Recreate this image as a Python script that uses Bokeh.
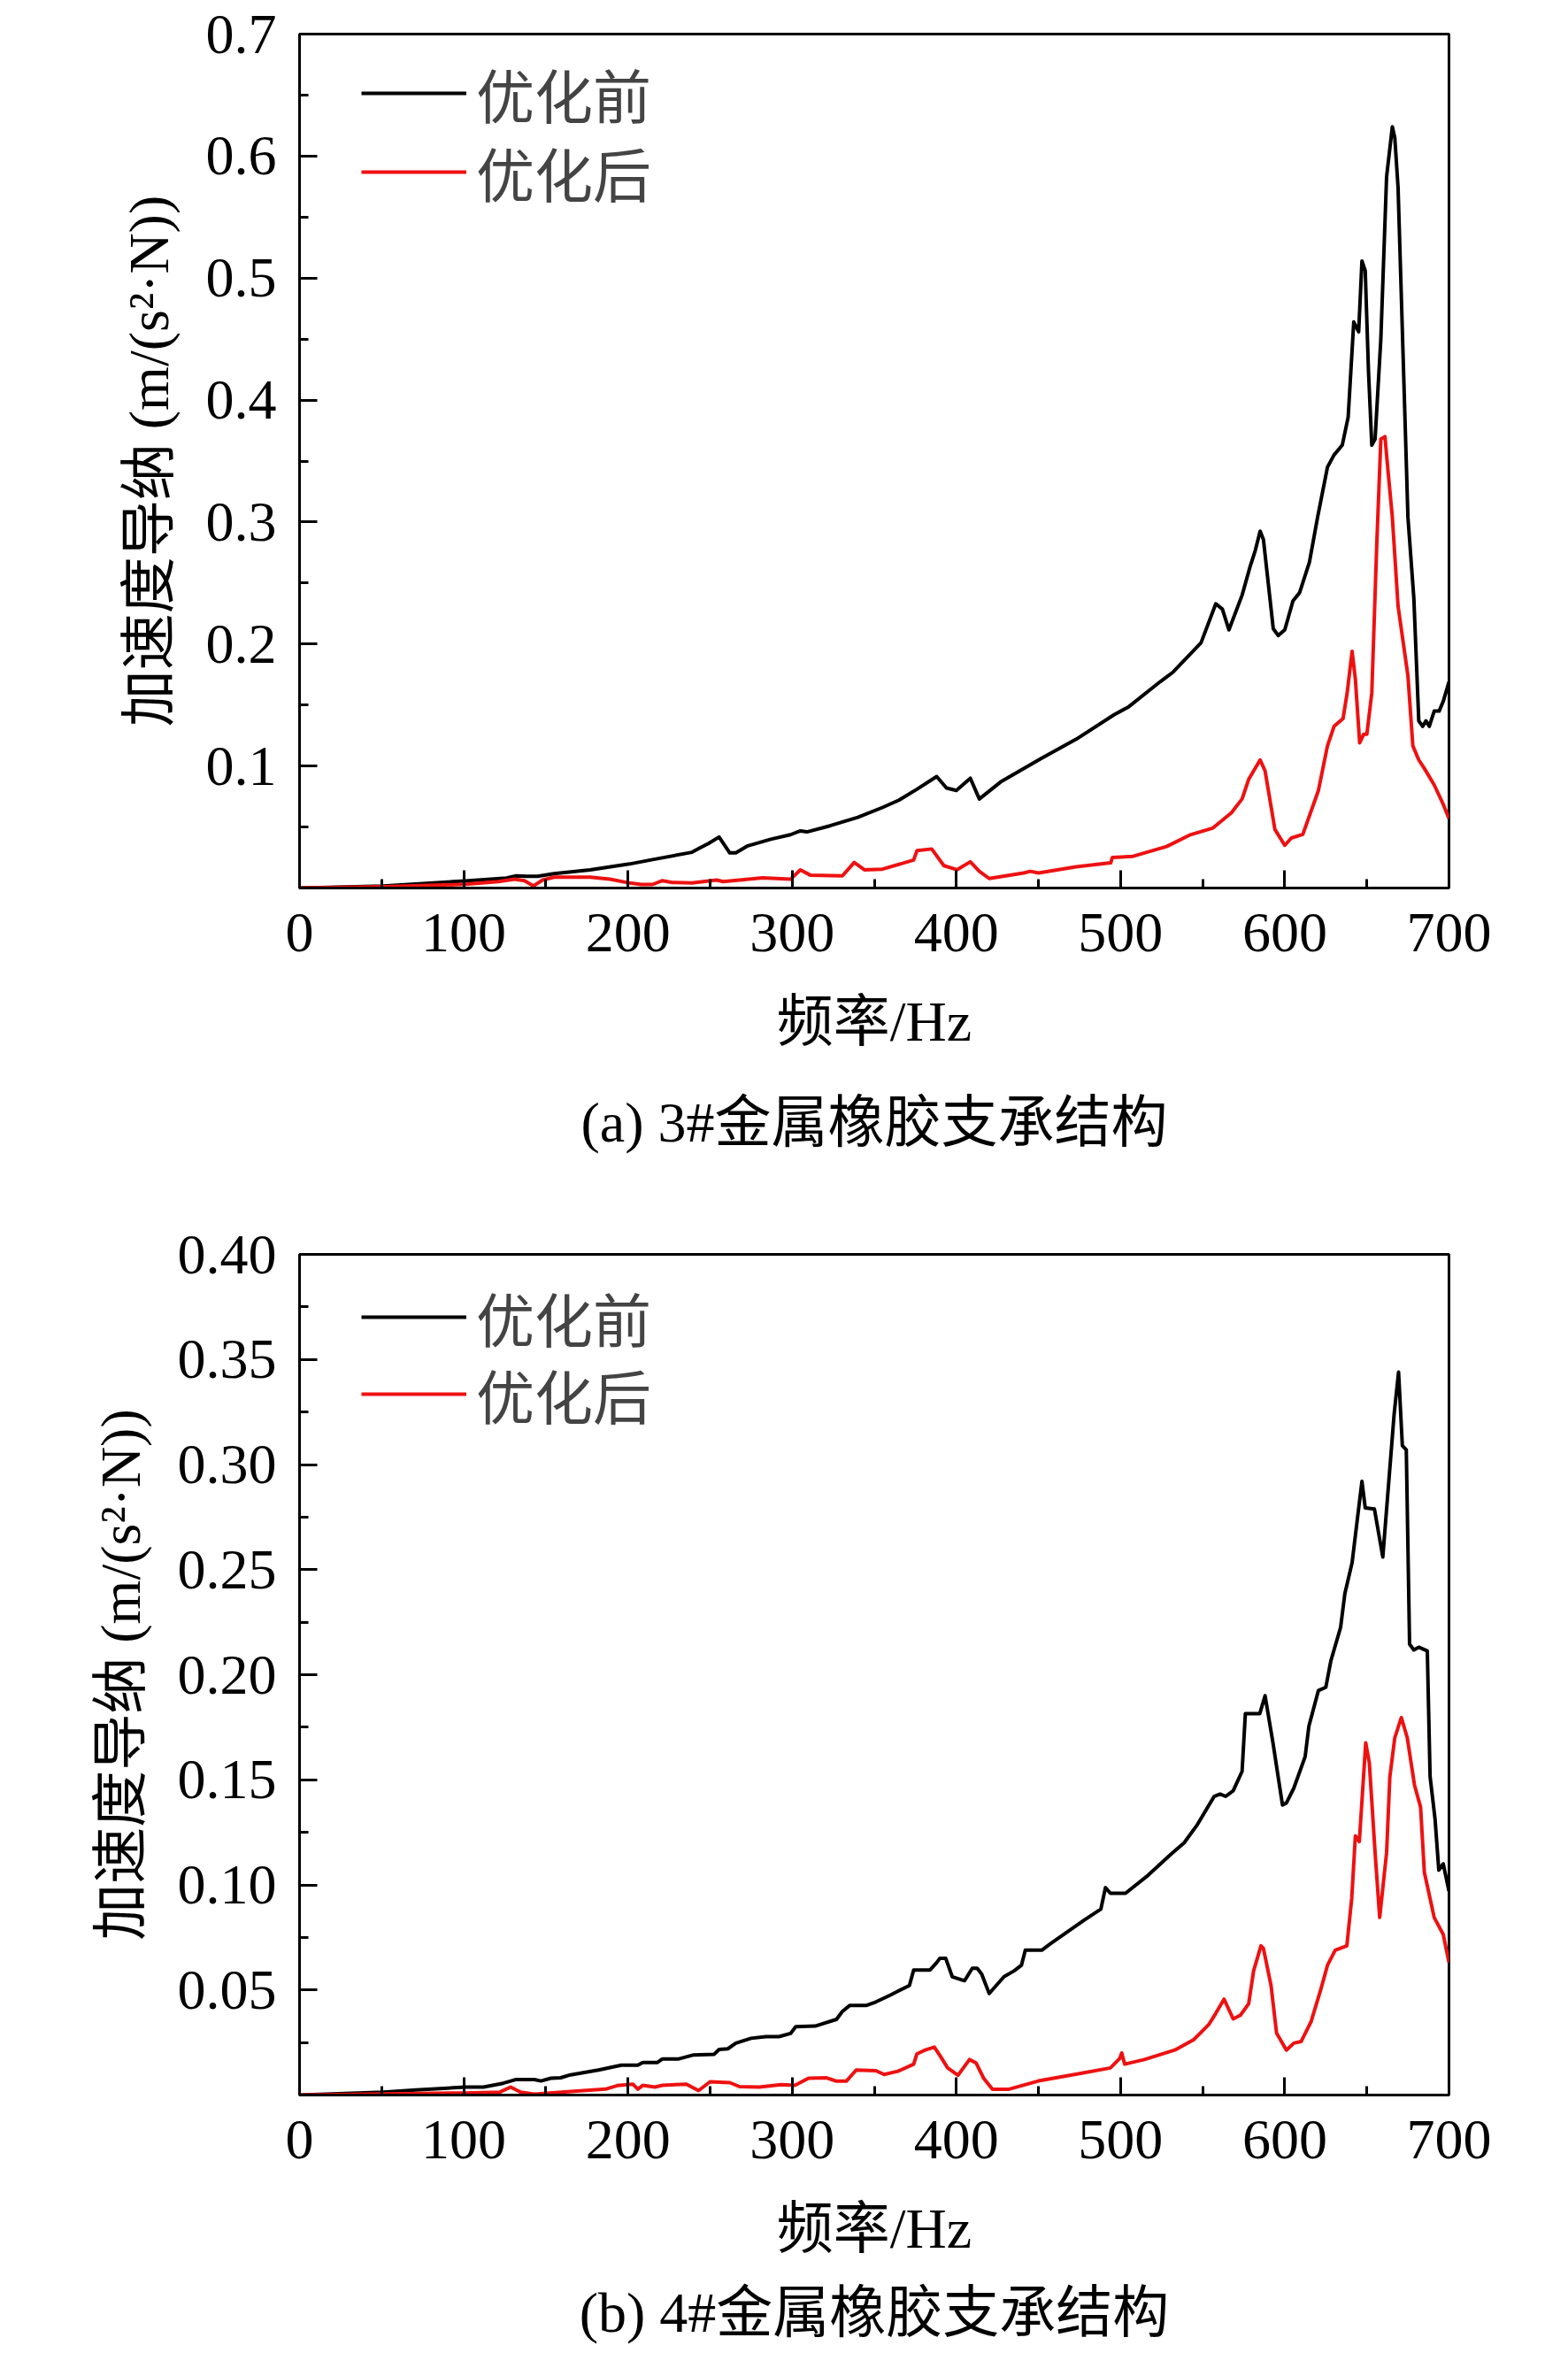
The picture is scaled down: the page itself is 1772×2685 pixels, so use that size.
from bokeh.plotting import figure
from bokeh.models import Range1d, FixedTicker, PrintfTickFormatter, Legend, LegendItem, Title
from bokeh.layouts import column
from bokeh.embed import file_html
from bokeh.resources import INLINE

# ---------------- data ----------------
x_ticks = [0, 100, 200, 300, 400, 500, 600, 700]
x_minor = [50, 150, 250, 350, 450, 550, 650]
y_ticks_a = [0.1, 0.2, 0.3, 0.4, 0.5, 0.6, 0.7]
y_minor_a = [0.05, 0.15, 0.25, 0.35, 0.45, 0.55, 0.65]
y_ticks_b = [0.05, 0.10, 0.15, 0.20, 0.25, 0.30, 0.35, 0.40]
y_minor_b = [0.025, 0.075, 0.125, 0.175, 0.225, 0.275, 0.325, 0.375]

legend_labels = ["优化前", "优化后"]
caption_a = "(a) 3#金属橡胶支承结构"
caption_b = "(b) 4#金属橡胶支承结构"
x_label = "频率/Hz"
y_label = "加速度导纳 (m/(s²·N))"

# (a) before optimisation
freq_a_before = [0, 51, 101, 126, 132, 138, 145, 155, 177, 201, 215, 239, 244, 249, 255.5, 262,
                 265.7, 273, 287, 299, 305, 309, 323, 340, 355, 365, 376, 388, 394, 400, 408.5,
                 414, 427, 452, 473, 496, 505, 524, 532, 549, 558, 562, 566, 574, 579, 582, 585,
                 587, 593, 596, 600, 605, 609, 615, 620, 626, 630, 635, 638.6, 642, 645, 647, 649,
                 651, 653, 655, 658.5, 662, 665.5, 667, 669, 675, 678.6, 681.6, 684, 686, 688,
                 691, 694, 696.5, 700]
val_a_before = [0, 0.0017, 0.0058, 0.0082, 0.010, 0.0096, 0.0096, 0.0118, 0.0149, 0.0197, 0.0233,
                0.0293, 0.033, 0.0365, 0.0418, 0.0288, 0.0288, 0.0346, 0.040, 0.0437, 0.0468,
                0.046, 0.051, 0.058, 0.066, 0.072, 0.081, 0.0914, 0.082, 0.080, 0.090, 0.073,
                0.087, 0.1065, 0.122, 0.142, 0.1486, 0.169, 0.177, 0.201, 0.233, 0.2286, 0.2116,
                0.240, 0.264, 0.2765, 0.2925, 0.2856, 0.2125, 0.207, 0.2116, 0.2354, 0.242, 0.267,
                0.304, 0.345, 0.355, 0.363, 0.386, 0.464, 0.456, 0.514, 0.506, 0.423, 0.363,
                0.368, 0.450, 0.583, 0.624, 0.615, 0.574, 0.304, 0.2376, 0.137, 0.1325, 0.137,
                0.1325, 0.145, 0.145, 0.153, 0.169]

# (a) after optimisation
freq_a_after = [0, 51, 101, 121, 131, 137, 142.5, 148, 155, 177, 189, 201, 208, 215, 221, 227,
                239, 254, 258, 282, 299, 305, 311, 330.6, 337.8, 344, 355, 374, 376, 385, 392.4,
                400.5, 408.5, 414, 420, 441, 445, 450, 473, 494, 495, 507.6, 528, 542, 556,
                567.5, 574, 578, 585, 588, 594, 600, 604, 611, 620.5, 626, 630, 635.5, 638, 641,
                643, 645.6, 648, 650, 653, 656, 658.5, 661, 663, 665.5, 669, 675, 678, 681.6,
                685, 691, 696.5, 700]
val_a_after = [0, 0.001, 0.003, 0.0053, 0.0072, 0.006, 0.0017, 0.0065, 0.0089, 0.0089, 0.0072,
               0.0041, 0.0029, 0.0029, 0.006, 0.0046, 0.0041, 0.0065, 0.0053, 0.0084, 0.0072,
               0.0149, 0.0106, 0.010, 0.0209, 0.0149, 0.0155, 0.0229, 0.0306, 0.032, 0.0183,
               0.015, 0.0215, 0.0137, 0.0078, 0.0123, 0.0137, 0.0123, 0.0174, 0.0206, 0.025,
               0.026, 0.034, 0.0434, 0.049, 0.0617, 0.073, 0.089, 0.105, 0.096, 0.048, 0.035,
               0.041, 0.044, 0.080, 0.1165, 0.1325, 0.139, 0.160, 0.194, 0.171, 0.119, 0.126,
               0.126, 0.160, 0.281, 0.368, 0.370, 0.340, 0.304, 0.231, 0.174, 0.1165, 0.105,
               0.098, 0.0845, 0.0686, 0.057]

# (b) before optimisation
freq_b_before = [0, 51, 71, 101, 112, 124, 132, 143, 147, 153, 159, 165, 182, 196, 206, 209, 218,
                 221, 231, 240, 252.5, 255.5, 260.8, 265.7, 275, 284, 292, 299, 302.2, 314, 327,
                 330.6, 335, 345, 351, 359.6, 371.4, 374, 384, 388, 390, 393.5, 397.5, 405,
                 409.7, 412.7, 415.4, 420, 429, 435, 439.6, 442, 452, 457, 477.6, 488, 490.8,
                 493.8, 503, 516.8, 530.6, 538.7, 546.8, 557, 560.6, 564, 568.6, 574, 576,
                 584.8, 588, 592.8, 598.6, 601, 605.5, 612.4, 614.7, 620.5, 625, 628, 634,
                 636.6, 641, 644.5, 647, 649, 654.6, 659.7, 666.6, 669.3, 671.6, 674, 676,
                 678.6, 681.6, 686.8, 688.5, 691.5, 693.8, 696.5, 700]
val_b_before = [0, 0.0014, 0.0024, 0.0038, 0.0038, 0.0056, 0.0074, 0.0074, 0.0067, 0.008,
                0.0082, 0.0096, 0.0119, 0.0142, 0.0142, 0.0155, 0.0155, 0.0172, 0.0172, 0.0191,
                0.0194, 0.0217, 0.022, 0.0247, 0.027, 0.0278, 0.0278, 0.0293, 0.0325, 0.0328,
                0.036, 0.0398, 0.0426, 0.0426, 0.0443, 0.0475, 0.0521, 0.0595, 0.0595, 0.063,
                0.0651, 0.0651, 0.0563, 0.0544, 0.0603, 0.0603, 0.0576, 0.0483, 0.0563, 0.059,
                0.0617, 0.0689, 0.0689, 0.0718, 0.0831, 0.0885, 0.0987, 0.096, 0.096, 0.1046,
                0.1145, 0.120, 0.1287, 0.1421, 0.1432, 0.1421, 0.1448, 0.154, 0.1815, 0.1815,
                0.190, 0.1676, 0.138, 0.139, 0.146, 0.161, 0.1756, 0.1925, 0.194, 0.2064,
                0.2225, 0.2386, 0.2533, 0.276, 0.292, 0.2794, 0.2788, 0.256, 0.324, 0.344,
                0.309, 0.307, 0.2145, 0.2118, 0.2131, 0.2113, 0.1515, 0.1314, 0.107, 0.110,
                0.097]

# (b) after optimisation
freq_b_after = [0, 101, 122, 128.6, 134.6, 143, 167, 186.3, 193.5, 203, 206, 209, 216.4, 221,
                235.6, 243, 250, 262, 268, 280, 293.3, 301.7, 310, 321, 327, 333, 339, 351, 356,
                364.4, 374, 376, 381, 386.6, 390, 394.7, 401, 408, 412, 416.6, 422, 431.6, 450,
                475, 493.8, 499.5, 500.7, 502.5, 514.5, 533, 544.5, 553.7, 558, 563, 568.6, 573,
                578, 581, 585.5, 587, 591.6, 595, 601, 605.5, 610, 616, 621.7, 626, 630.7,
                637.8, 640.8, 643, 645.4, 649.3, 651.5, 655, 657.8, 662, 664, 667, 671, 674.6,
                679, 682.7, 685, 691, 696.5, 700]
val_b_after = [0, 0.001, 0.0014, 0.0038, 0.0014, 0.0004, 0.0018, 0.0028, 0.0045, 0.0052, 0.0028,
               0.0046, 0.0038, 0.0046, 0.0052, 0.0021, 0.0063, 0.0059, 0.004, 0.0038, 0.0049,
               0.0046, 0.008, 0.0082, 0.0066, 0.0066, 0.0119, 0.0116, 0.0098, 0.0113, 0.0147,
               0.0196, 0.0214, 0.0228, 0.0188, 0.0129, 0.0094, 0.0169, 0.0153, 0.008, 0.0027,
               0.0027, 0.0067, 0.0102, 0.0129, 0.0174, 0.020, 0.0147, 0.0169, 0.0214, 0.0263,
               0.0335, 0.0389, 0.0456, 0.0362, 0.038, 0.0434, 0.059, 0.071, 0.0697, 0.0523,
               0.0295, 0.0214, 0.0247, 0.0255, 0.0349, 0.0496, 0.0617, 0.0689, 0.071, 0.0938,
               0.1233, 0.1206, 0.1676, 0.158, 0.1153, 0.0845, 0.1153, 0.1515, 0.170, 0.1796,
               0.170, 0.1475, 0.137, 0.106, 0.0845, 0.0764, 0.063]

# ---------------- styling ----------------
SERIF = "Liberation Serif, Noto Sans CJK SC"
CJK = "Noto Sans CJK SC"
FS = "64px"


def one_legend(label, renderer, y):
    lg = Legend(items=[LegendItem(label=label, renderers=[renderer])], location=(70, y))
    lg.margin = 0
    lg.padding = 0
    lg.border_line_color = None
    lg.background_fill_alpha = 0
    lg.label_text_font = CJK
    lg.label_text_font_size = "66px"
    lg.label_standoff = 11
    lg.glyph_width = 119
    lg.glyph_height = 60
    lg.label_height = 60
    return lg


def make_panel(fx1, fy1, fx2, fy2, ymax, yt, ym, fmt, caption, height, b_top, b_bottom,
               title_standoff, legend_y1, legend_y2):
    p = figure(width=1756, height=height, output_backend="svg", toolbar_location=None,
               x_range=Range1d(0, 700), y_range=Range1d(0, ymax),
               min_border_left=338, min_border_right=119,
               min_border_top=b_top, min_border_bottom=b_bottom)
    p.grid.visible = False
    p.background_fill_color = "white"
    p.border_fill_color = "white"
    p.outline_line_color = "black"
    p.outline_line_width = 3

    r1 = p.line(fx1, fy1, line_color="black", line_width=4, line_join="round")
    r2 = p.line(fx2, fy2, line_color="#ee1111", line_width=4, line_join="round")

    for ax in (p.xaxis[0], p.yaxis[0]):
        ax.axis_line_width = 3
        ax.major_tick_line_width = 3
        ax.minor_tick_line_width = 3
        ax.major_tick_in = 20
        ax.major_tick_out = 0
        ax.minor_tick_in = 10
        ax.minor_tick_out = 0
        ax.major_label_text_font = SERIF
        ax.major_label_text_font_size = FS
        ax.major_label_text_color = "black"
        ax.axis_label_text_font = SERIF
        ax.axis_label_text_font_size = FS
        ax.axis_label_text_font_style = "normal"
        ax.axis_label_text_color = "black"

    p.xaxis[0].ticker = FixedTicker(ticks=x_ticks, minor_ticks=x_minor)
    p.yaxis[0].ticker = FixedTicker(ticks=yt, minor_ticks=ym)
    p.yaxis[0].formatter = PrintfTickFormatter(format=fmt)
    p.xaxis[0].axis_label = x_label
    p.yaxis[0].axis_label = y_label
    p.xaxis[0].major_label_standoff = 29
    p.xaxis[0].axis_label_standoff = 41
    p.yaxis[0].major_label_standoff = 26
    p.yaxis[0].axis_label_standoff = 26

    p.add_layout(one_legend(legend_labels[0], r1, legend_y1))
    p.add_layout(one_legend(legend_labels[1], r2, legend_y2))

    p.title = Title(text=caption, align="center", text_font=SERIF, text_font_size=FS,
                    text_font_style="normal", text_color="black", standoff=title_standoff)
    p.title_location = "below"
    return p


pa = make_panel(freq_a_before, val_a_before, freq_a_after, val_a_after, 0.7,
                y_ticks_a, y_minor_a, "%.1f", caption_a, 1370, 38, 367, 77, 850, 761)
pb = make_panel(freq_b_before, val_b_before, freq_b_after, val_b_after, 0.40,
                y_ticks_b, y_minor_b, "%.2f", caption_b, 1299, 47, 302, 38, 831, 744)

layout = column(pa, pb, spacing=0)
open("out.html", "w").write(file_html(layout, INLINE))
